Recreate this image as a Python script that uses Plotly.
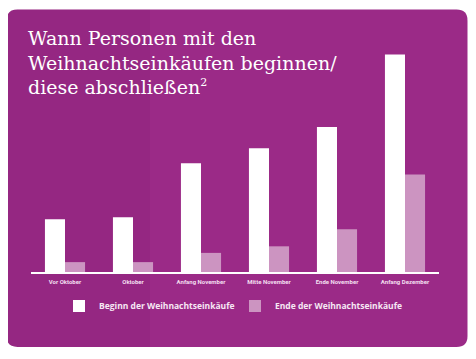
import plotly.graph_objects as go

categories = ["Vor Oktober", "Oktober", "Anfang November", "Mitte November", "Ende November", "Anfang Dezember"]
beginn = [8.0, 8.3, 16.5, 18.8, 22.0, 33.0]
ende = [1.5, 1.5, 2.9, 3.9, 6.5, 14.8]
series_names = ["Beginn der Weihnachtseinkäufe", "Ende der Weihnachtseinkäufe"]
title_text = ("Wann Personen mit den<br>Weihnachtseinkäufen beginnen/<br>"
              "diese abschließen<sup><span style='font-size:11px'>2</span></sup>")

OFF = 8  # page body margin
W, H = 476 - OFF, 359 - OFF
L, R, T, B = 31 - OFF, 476 - 439, 48 - OFF, 359 - 272
PW, PH = W - L - R, H - T - B

def px(x):  # reference pixel -> paper
    return (x - OFF - L) / PW

def py(y):
    return (H - B - (y - OFF)) / PH

fig = go.Figure()
fig.add_trace(go.Bar(x=categories, y=beginn, name=series_names[0],
                     marker=dict(color="#ffffff", line=dict(width=0))))
fig.add_trace(go.Bar(x=categories, y=ende, name=series_names[1],
                     marker=dict(color="#cc94c1", line=dict(width=0))))

# rounded purple background card
x0, x1, y0, y1 = px(6.5), px(467.5), py(9.5), py(347)
rx, ry = 11 / PW, 11 / PH
path = (f"M {x0+rx},{y0} L {x1-rx},{y0} Q {x1},{y0} {x1},{y0-ry} "
        f"L {x1},{y1+ry} Q {x1},{y1} {x1-rx},{y1} "
        f"L {x0+rx},{y1} Q {x0},{y1} {x0},{y1+ry} "
        f"L {x0},{y0-ry} Q {x0},{y0} {x0+rx},{y0} Z")
shapes = [dict(type="path", path=path, xref="paper", yref="paper",
               fillcolor="#9b2a87", line=dict(width=0), layer="below")]
# subtle darker texture on the left side
lp = (f"M {x0+rx},{y0} L {px(150)},{y0} L {px(150)},{y1} "
      f"L {x0+rx},{y1} Q {x0},{y1} {x0},{y1+ry} L {x0},{y0-ry} Q {x0},{y0} {x0+rx},{y0} Z")
shapes.append(dict(type="path", path=lp, xref="paper", yref="paper",
                   fillcolor="rgba(60,0,50,0.06)", line=dict(width=0), layer="below"))

fig.update_layout(
    width=W, height=H,
    margin=dict(l=L, r=R, t=T, b=B, autoexpand=False),
    paper_bgcolor="#ffffff",
    plot_bgcolor="rgba(0,0,0,0)",
    barmode="group",
    bargap=0.41,
    bargroupgap=0,
    shapes=shapes,
    showlegend=True,
    legend=dict(orientation="h", x=px(59), xanchor="left", y=py(306), yanchor="middle",
                font=dict(family="Open Sans", size=8.5, color="#f6e8f4", weight="bold"),
                bgcolor="rgba(0,0,0,0)", itemwidth=30, entrywidth=131, traceorder="normal"),
    title=dict(text=title_text, xref="container", yref="container",
               x=(28 - OFF) / W, y=1 - (45 - OFF) / H, xanchor="left", yanchor="top",
               font=dict(family="DejaVu Serif", size=19, color="#ffffff")),
    xaxis=dict(range=[-0.5, 5.5], showline=True, linecolor="#ffffff", linewidth=1.5,
               ticks="", showgrid=False, zeroline=False, ticklabelstandoff=3,
               tickfont=dict(family="Roboto", size=6, color="#f3dff0", weight="bold")),
    yaxis=dict(range=[0, 34], visible=False, showgrid=False, zeroline=False),
)

fig.write_html("out.html")
